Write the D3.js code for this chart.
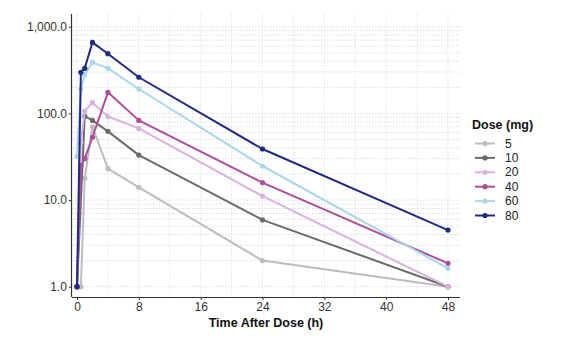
<!DOCTYPE html>
<html><head><meta charset="utf-8">
<script src="https://cdn.jsdelivr.net/npm/d3@7"></script>
<style>body{margin:0;background:#fff;font-family:"Liberation Sans",Arial,sans-serif}</style>
</head><body><svg id="c" width="582" height="340"></svg>
<script>
const doses = ["5","10","20","40","60","80"];
const colors = ["#bdbdbd","#6b6b6b","#d8b2e0","#ad4f9c","#a9d7ea","#1f2a85"];
const times5  = [0, 0.5, 1, 2, 4, 8, 24, 48];
const conc5   = [1.0, 1.0, 17.8, 70, 23, 14, 2.0, 1.0];
const times10 = [0, 1, 2, 4, 8, 24, 48];
const conc10  = [1.0, 93, 83, 62, 33, 5.9, 1.0];
const times20 = [0, 0.5, 1, 2, 4, 8, 24, 48];
const conc20  = [1.0, 46, 106, 133, 92, 67, 11.1, 1.0];
const times40 = [0, 0.5, 1, 2, 4, 8, 24, 48];
const conc40  = [1.0, 25, 30, 53, 175, 83, 15.9, 1.86];
const times60 = [0, 0.5, 1, 2, 4, 8, 24, 48];
const conc60  = [32, 190, 280, 388, 331, 191, 24.7, 1.63];
const times80 = [0, 0.5, 1, 2, 4, 8, 24, 48];
const conc80  = [1.0, 298, 331, 659, 488, 261, 38.8, 4.5];
const xTicks = [0, 8, 16, 24, 32, 40, 48];
const yTicks = [1, 10, 100, 1000];

const allTimes = [times5, times10, times20, times40, times60, times80];
const allConc = [conc5, conc10, conc20, conc40, conc60, conc80];
const series = doses.map((d,i)=>({dose:d, color:colors[i], pts: allTimes[i].map((t,j)=>({t, c: allConc[i][j]}))}));

const svg = d3.select("#c");
const x = d3.scaleLinear().domain([0,48]).range([77,448]);
const y = d3.scaleLog().domain([1,1000]).range([286.7,26.7]);
const panel = {l:72, r:460, t:14, b:297};

// grid
const g = svg.append("g");
const vgrid = d3.range(0, 49, 4);
g.selectAll("line.v").data(vgrid).join("line")
  .attr("x1", d=>x(d)).attr("x2", d=>x(d)).attr("y1", panel.t).attr("y2", panel.b)
  .attr("stroke","#e3e3e3").attr("stroke-width",1).attr("stroke-dasharray","1.5,1.5");
const hgrid = [];
[1,10,100].forEach(b=>{ for(let k=1;k<10;k++) hgrid.push(b*k); });
hgrid.push(1000);
g.selectAll("line.h").data(hgrid).join("line")
  .attr("x1", panel.l).attr("x2", panel.r).attr("y1", d=>y(d)).attr("y2", d=>y(d))
  .attr("stroke","#dedede").attr("stroke-width",1).attr("stroke-dasharray","1.5,1.5");

// axes
const xAxis = svg.append("g").attr("transform",`translate(0,${panel.b})`)
  .call(d3.axisBottom(x).tickValues(xTicks).tickSize(3).tickPadding(2));
xAxis.select(".domain").attr("d", `M${panel.l},0.5H${panel.r}`).attr("stroke","#333").attr("stroke-width",1.2);
xAxis.selectAll(".tick line").attr("stroke","#333");
xAxis.selectAll("text").attr("font-size",12).attr("fill","#333").attr("font-family","Liberation Sans, Arial, sans-serif");

const yAxis = svg.append("g").attr("transform",`translate(${panel.l},0)`)
  .call(d3.axisLeft(y).tickValues(yTicks).tickFormat(d3.format(",.1f")).tickSize(3).tickPadding(2));
yAxis.select(".domain").attr("d", `M-0.5,${panel.t}V${panel.b}`).attr("stroke","#333").attr("stroke-width",1.2);
yAxis.selectAll(".tick line").attr("stroke","#333");
yAxis.selectAll("text").attr("font-size",12).attr("fill","#333").attr("font-family","Liberation Sans, Arial, sans-serif");

// lines
const line = d3.line().x(d=>x(d.t)).y(d=>y(d.c));
const sg = svg.append("g").selectAll("g").data(series).join("g");
sg.append("path").attr("d", d=>line(d.pts)).attr("fill","none")
  .attr("stroke", d=>d.color).attr("stroke-width",2).attr("stroke-linejoin","round");
sg.selectAll("circle").data(d=>d.pts.map(p=>({...p, color:d.color}))).join("circle")
  .attr("cx", d=>x(d.t)).attr("cy", d=>y(d.c)).attr("r",2.6).attr("fill", d=>d.color);

// axis title
svg.append("text").attr("x",266).attr("y",327).attr("text-anchor","middle")
  .attr("font-size",12.5).attr("font-weight","bold").attr("fill","#111").text("Time After Dose (h)");

// legend
const lg = svg.append("g");
lg.append("text").attr("x",472).attr("y",129).attr("font-size",12.5).attr("font-weight","bold")
  .attr("fill","#111").text("Dose (mg)");
const li = lg.selectAll("g.it").data(series).join("g")
  .attr("transform",(d,i)=>`translate(0,${143.5 + i*14.4})`);
li.append("line").attr("x1",475).attr("x2",495).attr("y1",0).attr("y2",0)
  .attr("stroke",d=>d.color).attr("stroke-width",2);
li.append("circle").attr("cx",485).attr("cy",0).attr("r",2.6).attr("fill",d=>d.color);
li.append("text").attr("x",505).attr("y",4).attr("font-size",12).attr("fill","#222").text(d=>d.dose);
</script></body></html>
